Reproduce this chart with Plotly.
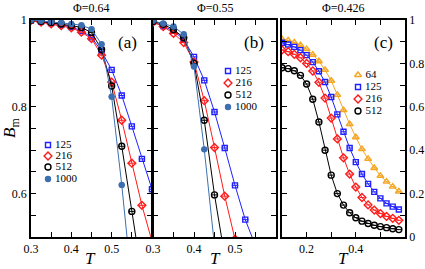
import plotly.graph_objects as go

# ---------------- data ----------------
# panel (a) Phi=0.64
T_a = [0.3, 0.325, 0.35, 0.375, 0.4, 0.425, 0.45, 0.475, 0.5, 0.525, 0.55, 0.575, 0.6]
a_125 = [0.999, 0.996, 0.993, 0.989, 0.984, 0.975, 0.960, 0.928, 0.885, 0.826, 0.755, 0.680, 0.610]
a_216 = [0.999, 0.995, 0.991, 0.987, 0.982, 0.972, 0.957, 0.919, 0.857, 0.769, 0.670, 0.573, 0.490]
a_512 = [1.000, 0.997, 0.994, 0.991, 0.987, 0.983, 0.971, 0.932, 0.848, 0.709, 0.559, 0.410]
a_1000 = [1.000, 0.998, 0.996, 0.994, 0.991, 0.988, 0.979, 0.944, 0.823, 0.620, 0.390]

# panel (b) Phi=0.55
T_b = [0.3, 0.325, 0.35, 0.375, 0.4, 0.425, 0.45, 0.475, 0.5, 0.525, 0.55]
b_125 = [0.996, 0.986, 0.975, 0.955, 0.915, 0.861, 0.788, 0.705, 0.619, 0.540, 0.480]
b_216 = [0.995, 0.985, 0.969, 0.948, 0.903, 0.814, 0.706, 0.594, 0.495]
b_512 = [0.997, 0.990, 0.978, 0.959, 0.900, 0.769, 0.597, 0.455]
b_1000 = [0.998, 0.992, 0.985, 0.967, 0.893, 0.702, 0.480]

# panel (c) Phi=0.426
T_c = [0.1, 0.125, 0.15, 0.175, 0.2, 0.225, 0.25, 0.275, 0.3, 0.325,
       0.35, 0.375, 0.4, 0.425, 0.45, 0.475, 0.5, 0.525, 0.55, 0.575]
c_64 = [0.912, 0.906, 0.897, 0.884, 0.866, 0.840, 0.810, 0.770, 0.720, 0.655,
        0.585, 0.520, 0.460, 0.405, 0.360, 0.318, 0.282, 0.255, 0.232, 0.210]
c_125 = [0.895, 0.887, 0.876, 0.861, 0.838, 0.806, 0.764, 0.714, 0.645, 0.565,
         0.485, 0.410, 0.345, 0.290, 0.245, 0.208, 0.178, 0.155, 0.140, 0.127]
c_216 = [0.862, 0.854, 0.842, 0.826, 0.800, 0.765, 0.713, 0.640, 0.548, 0.452,
         0.365, 0.290, 0.230, 0.182, 0.148, 0.124, 0.108, 0.095, 0.086, 0.077]
c_512 = [0.780, 0.776, 0.766, 0.745, 0.705, 0.635, 0.530, 0.400, 0.285, 0.200,
         0.147, 0.112, 0.089, 0.073, 0.062, 0.054, 0.048, 0.043, 0.038, 0.034]

titles = ["\u03a6=0.64", "\u03a6=0.55", "\u03a6=0.426"]
panel_tags = ["(a)", "(b)", "(c)"]
legend_ab = ["125", "216", "512", "1000"]
legend_c = ["64", "125", "216", "512"]

# ---------------- styles ----------------
FONT = "Liberation Serif"
BLUE, RED, BLACK, STEEL, ORANGE = "#2020ff", "#ff1a1a", "#000000", "#3d6fb0", "#f5a623"
sty = {
    "64": dict(color=ORANGE, symbol="triangle-up-open", size=6),
    "125": dict(color=BLUE, symbol="square-open", size=5),
    "216": dict(color=RED, symbol="diamond-open", size=6),
    "512": dict(color=BLACK, symbol="circle-open", size=6),
    "1000": dict(color=STEEL, symbol="circle", size=5),
}

W, H = 425, 269
fig = go.Figure()

def add_series(x, y, key, xa, ya, err):
    s = sty[key]
    fig.add_trace(go.Scatter(
        x=x[:len(y)], y=y, mode="lines+markers", xaxis=xa, yaxis=ya,
        line=dict(color=s["color"], width=1),
        marker=dict(symbol=s["symbol"], size=s["size"], color=s["color"],
                    line=dict(color=s["color"], width=1.4)),
        error_x=dict(type="constant", value=err, color=s["color"], thickness=1, width=0),
        showlegend=False, cliponaxis=True))

for key, ys in zip(legend_ab, [a_125, a_216, a_512, a_1000]):
    add_series(T_a, ys, key, "x", "y", 0.008)
for key, ys in zip(legend_ab, [b_125, b_216, b_512, b_1000]):
    add_series(T_b, ys, key, "x2", "y2", 0.008)
for key, ys in zip(legend_c, [c_64, c_125, c_216, c_512]):
    add_series(T_c, ys, key, "x3", "y3", 0.010)

# legend keys drawn on a pixel-coordinate helper axis
legend_layout = [
    (legend_ab, 48, [145, 156, 167, 179]),
    (legend_ab, 228, [71, 83, 95, 107]),
    (legend_c, 358, [75, 87, 99, 111]),
]
for labels, lx, rows in legend_layout:
    for lab, ry in zip(labels, rows):
        s = sty[lab]
        fig.add_trace(go.Scatter(
            x=[lx], y=[ry], mode="markers+text", xaxis="x4", yaxis="y4",
            marker=dict(symbol=s["symbol"], size=s["size"], color=s["color"],
                        line=dict(color=s["color"], width=1.4)),
            text=[" " + lab], textposition="middle right",
            textfont=dict(family=FONT, size=11, color="black"),
            showlegend=False, hoverinfo="skip", cliponaxis=False))

ydom = [(H - 237) / H, (H - 20) / H]
common = dict(showline=True, linecolor="black", linewidth=1.5, mirror="allticks",
              ticks="inside", ticklen=5, tickwidth=1.2, tickcolor="black",
              showgrid=False, zeroline=False, automargin=False,
              tickfont=dict(family=FONT, size=12, color="black"))
minor_ab = dict(ticks="inside", ticklen=5, tickwidth=1.2, tickcolor="black",
                dtick=0.05, showgrid=False)
minor_c = dict(ticks="inside", ticklen=5, tickwidth=1.2, tickcolor="black",
               dtick=0.1, showgrid=False)

fig.update_layout(
    template="none",
    width=W, height=H, margin=dict(l=0, r=0, t=0, b=0, autoexpand=False),
    paper_bgcolor="white", plot_bgcolor="rgba(0,0,0,0)",
    xaxis=dict(domain=[31 / W, 152 / W], range=[0.3, 0.6], anchor="y",
               tickvals=[0.3, 0.4, 0.5], minor=minor_ab, **common),
    yaxis=dict(domain=ydom, range=[0.5, 1.0], anchor="x",
               tickvals=[0.6, 0.8, 1.0], ticktext=["0.6", "0.8", "1"],
               minor=minor_ab, **common),
    xaxis2=dict(domain=[153 / W, 276 / W], range=[0.3, 0.6], anchor="y2",
                tickvals=[0.3, 0.4, 0.5], minor=minor_ab, **common),
    yaxis2=dict(domain=ydom, range=[0.5, 1.0], anchor="x2",
                tickvals=[0.6, 0.8, 1.0], showticklabels=False, minor=minor_ab, **common),
    xaxis3=dict(domain=[282 / W, 405 / W], range=[0.1, 0.6], anchor="y3",
                tickvals=[0.2, 0.4], minor=minor_c, **common),
    yaxis3=dict(domain=ydom, range=[0, 1.0], anchor="x3", side="right",
                tickvals=[0, 0.2, 0.4, 0.6, 0.8, 1.0],
                ticktext=["0", "0.2", "0.4", "0.6", "0.8", "1"],
                minor=minor_c, **common),
    xaxis4=dict(domain=[0, 1], range=[0, W], visible=False, fixedrange=True, anchor="y4"),
    yaxis4=dict(domain=[0, 1], range=[H, 0], visible=False, fixedrange=True, anchor="x4"),
)

def note(text, xc, yc, size, angle=0):
    return dict(text=text, x=xc / W, y=1 - yc / H, xref="paper", yref="paper",
                xanchor="center", yanchor="middle", showarrow=False, textangle=angle,
                font=dict(family=FONT, size=size, color="black"))

ann = []
for t, xc in zip(titles, [91, 215, 343]):
    ann.append(note(t, xc, 8, 12))
for t, xc in zip(panel_tags, [128, 254, 383]):
    ann.append(note(t, xc, 42, 17))
for xc in [90, 216, 343]:
    ann.append(note("<i>T</i>", xc, 258, 17))
ann.append(note("<i>B</i><sub>m</sub>", 11, 128, 17, -90))
fig.update_layout(annotations=ann)

fig.write_html("out.html", config={"displayModeBar": False},
               post_script="document.body.style.margin='0px';")
